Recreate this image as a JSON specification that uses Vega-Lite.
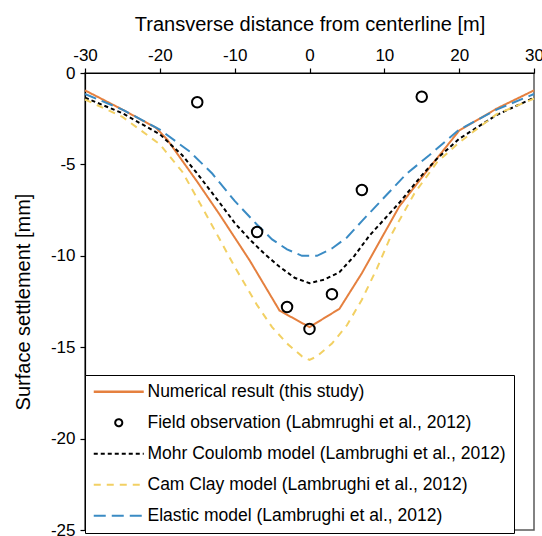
{
  "$schema": "https://vega.github.io/schema/vega-lite/v6.json",
  "width": 449,
  "height": 457,
  "autosize": "none",
  "padding": {"left": 85, "top": 73, "right": 8, "bottom": 6},
  "background": "white",
  "config": {
    "font": "Liberation Sans",
    "view": {"stroke": "#595959", "strokeWidth": 1.5},
    "axis": {"grid": false, "domainColor": "black", "tickColor": "black", "labelColor": "black", "titleColor": "black", "labelFont": "Liberation Sans", "titleFont": "Liberation Sans", "titleFontWeight": "normal", "domainWidth": 1.2, "tickWidth": 1.2}
  },
  "datasets": {
    "curves": [
      {"series": "Numerical result (this study)", "x": -30, "y": -0.95},
      {"series": "Numerical result (this study)", "x": -25, "y": -2.0},
      {"series": "Numerical result (this study)", "x": -20.5, "y": -3.0},
      {"series": "Numerical result (this study)", "x": -19, "y": -3.65},
      {"series": "Numerical result (this study)", "x": -15, "y": -5.95},
      {"series": "Numerical result (this study)", "x": -12, "y": -7.75},
      {"series": "Numerical result (this study)", "x": -8, "y": -10.25},
      {"series": "Numerical result (this study)", "x": -4, "y": -13.0},
      {"series": "Numerical result (this study)", "x": 0, "y": -13.9},
      {"series": "Numerical result (this study)", "x": 4, "y": -12.9},
      {"series": "Numerical result (this study)", "x": 7, "y": -10.95},
      {"series": "Numerical result (this study)", "x": 12, "y": -7.3},
      {"series": "Numerical result (this study)", "x": 16, "y": -5.2},
      {"series": "Numerical result (this study)", "x": 20, "y": -3.15},
      {"series": "Numerical result (this study)", "x": 25, "y": -1.95},
      {"series": "Numerical result (this study)", "x": 30, "y": -0.95},
      {"series": "Mohr Coulomb model (Lambrughi et al., 2012)", "x": -30, "y": -1.35},
      {"series": "Mohr Coulomb model (Lambrughi et al., 2012)", "x": -25, "y": -2.2},
      {"series": "Mohr Coulomb model (Lambrughi et al., 2012)", "x": -20, "y": -3.35},
      {"series": "Mohr Coulomb model (Lambrughi et al., 2012)", "x": -17, "y": -4.5},
      {"series": "Mohr Coulomb model (Lambrughi et al., 2012)", "x": -15, "y": -5.5},
      {"series": "Mohr Coulomb model (Lambrughi et al., 2012)", "x": -12, "y": -7.1},
      {"series": "Mohr Coulomb model (Lambrughi et al., 2012)", "x": -10, "y": -8.2},
      {"series": "Mohr Coulomb model (Lambrughi et al., 2012)", "x": -8, "y": -9.1},
      {"series": "Mohr Coulomb model (Lambrughi et al., 2012)", "x": -6, "y": -9.9},
      {"series": "Mohr Coulomb model (Lambrughi et al., 2012)", "x": -4, "y": -10.6},
      {"series": "Mohr Coulomb model (Lambrughi et al., 2012)", "x": -2, "y": -11.2},
      {"series": "Mohr Coulomb model (Lambrughi et al., 2012)", "x": 0, "y": -11.5},
      {"series": "Mohr Coulomb model (Lambrughi et al., 2012)", "x": 2, "y": -11.3},
      {"series": "Mohr Coulomb model (Lambrughi et al., 2012)", "x": 4, "y": -10.9},
      {"series": "Mohr Coulomb model (Lambrughi et al., 2012)", "x": 6, "y": -10.0},
      {"series": "Mohr Coulomb model (Lambrughi et al., 2012)", "x": 8, "y": -8.9},
      {"series": "Mohr Coulomb model (Lambrughi et al., 2012)", "x": 10, "y": -8.0},
      {"series": "Mohr Coulomb model (Lambrughi et al., 2012)", "x": 12, "y": -7.1},
      {"series": "Mohr Coulomb model (Lambrughi et al., 2012)", "x": 15, "y": -5.6},
      {"series": "Mohr Coulomb model (Lambrughi et al., 2012)", "x": 17, "y": -4.7},
      {"series": "Mohr Coulomb model (Lambrughi et al., 2012)", "x": 20, "y": -3.6},
      {"series": "Mohr Coulomb model (Lambrughi et al., 2012)", "x": 25, "y": -2.3},
      {"series": "Mohr Coulomb model (Lambrughi et al., 2012)", "x": 30, "y": -1.35},
      {"series": "Cam Clay model (Lambrughi et al., 2012)", "x": -30, "y": -1.45},
      {"series": "Cam Clay model (Lambrughi et al., 2012)", "x": -25, "y": -2.4},
      {"series": "Cam Clay model (Lambrughi et al., 2012)", "x": -20, "y": -3.9},
      {"series": "Cam Clay model (Lambrughi et al., 2012)", "x": -17, "y": -5.4},
      {"series": "Cam Clay model (Lambrughi et al., 2012)", "x": -14, "y": -7.6},
      {"series": "Cam Clay model (Lambrughi et al., 2012)", "x": -12, "y": -9.1},
      {"series": "Cam Clay model (Lambrughi et al., 2012)", "x": -10, "y": -10.6},
      {"series": "Cam Clay model (Lambrughi et al., 2012)", "x": -7, "y": -12.7},
      {"series": "Cam Clay model (Lambrughi et al., 2012)", "x": -5, "y": -13.9},
      {"series": "Cam Clay model (Lambrughi et al., 2012)", "x": -3, "y": -14.8},
      {"series": "Cam Clay model (Lambrughi et al., 2012)", "x": -1, "y": -15.5},
      {"series": "Cam Clay model (Lambrughi et al., 2012)", "x": 0, "y": -15.7},
      {"series": "Cam Clay model (Lambrughi et al., 2012)", "x": 1, "y": -15.5},
      {"series": "Cam Clay model (Lambrughi et al., 2012)", "x": 3, "y": -14.8},
      {"series": "Cam Clay model (Lambrughi et al., 2012)", "x": 5, "y": -13.8},
      {"series": "Cam Clay model (Lambrughi et al., 2012)", "x": 7, "y": -12.4},
      {"series": "Cam Clay model (Lambrughi et al., 2012)", "x": 9, "y": -10.7},
      {"series": "Cam Clay model (Lambrughi et al., 2012)", "x": 11, "y": -8.8},
      {"series": "Cam Clay model (Lambrughi et al., 2012)", "x": 14, "y": -6.6},
      {"series": "Cam Clay model (Lambrughi et al., 2012)", "x": 17, "y": -4.9},
      {"series": "Cam Clay model (Lambrughi et al., 2012)", "x": 20, "y": -3.8},
      {"series": "Cam Clay model (Lambrughi et al., 2012)", "x": 25, "y": -2.25},
      {"series": "Cam Clay model (Lambrughi et al., 2012)", "x": 30, "y": -1.4},
      {"series": "Elastic model (Lambrughi et al., 2012)", "x": -30, "y": -1.15},
      {"series": "Elastic model (Lambrughi et al., 2012)", "x": -25, "y": -2.0},
      {"series": "Elastic model (Lambrughi et al., 2012)", "x": -20, "y": -3.1},
      {"series": "Elastic model (Lambrughi et al., 2012)", "x": -16, "y": -4.3},
      {"series": "Elastic model (Lambrughi et al., 2012)", "x": -13, "y": -5.5},
      {"series": "Elastic model (Lambrughi et al., 2012)", "x": -10, "y": -7.0},
      {"series": "Elastic model (Lambrughi et al., 2012)", "x": -7, "y": -8.3},
      {"series": "Elastic model (Lambrughi et al., 2012)", "x": -5, "y": -9.1},
      {"series": "Elastic model (Lambrughi et al., 2012)", "x": -3, "y": -9.65},
      {"series": "Elastic model (Lambrughi et al., 2012)", "x": -1, "y": -10.0},
      {"series": "Elastic model (Lambrughi et al., 2012)", "x": 0, "y": -10.0},
      {"series": "Elastic model (Lambrughi et al., 2012)", "x": 1, "y": -10.0},
      {"series": "Elastic model (Lambrughi et al., 2012)", "x": 3, "y": -9.6},
      {"series": "Elastic model (Lambrughi et al., 2012)", "x": 5, "y": -9.0},
      {"series": "Elastic model (Lambrughi et al., 2012)", "x": 7, "y": -8.1},
      {"series": "Elastic model (Lambrughi et al., 2012)", "x": 10, "y": -6.8},
      {"series": "Elastic model (Lambrughi et al., 2012)", "x": 13, "y": -5.5},
      {"series": "Elastic model (Lambrughi et al., 2012)", "x": 16, "y": -4.5},
      {"series": "Elastic model (Lambrughi et al., 2012)", "x": 20, "y": -3.1},
      {"series": "Elastic model (Lambrughi et al., 2012)", "x": 25, "y": -2.0},
      {"series": "Elastic model (Lambrughi et al., 2012)", "x": 30, "y": -1.15}
    ],
    "obs": [
      {"series": "Field observation (Labmrughi et al., 2012)", "x": -15, "y": -1.6},
      {"series": "Field observation (Labmrughi et al., 2012)", "x": 15, "y": -1.3},
      {"series": "Field observation (Labmrughi et al., 2012)", "x": -7, "y": -8.7},
      {"series": "Field observation (Labmrughi et al., 2012)", "x": 7, "y": -6.4},
      {"series": "Field observation (Labmrughi et al., 2012)", "x": -3, "y": -12.8},
      {"series": "Field observation (Labmrughi et al., 2012)", "x": 3, "y": -12.1},
      {"series": "Field observation (Labmrughi et al., 2012)", "x": 0, "y": -14.0}
    ]
  },
  "encoding": {
    "x": {"field": "x", "type": "quantitative", "scale": {"domain": [-30, 30], "nice": false, "zero": false},
      "axis": {"orient": "top", "values": [-30, -20, -10, 0, 10, 20, 30], "labelExpr": "toString(datum.value)", "title": "Transverse distance from centerline [m]", "titleFontSize": 20, "labelFontSize": 17, "tickSize": 5, "labelPadding": 4, "titlePadding": 12, "labelFlush": false}},
    "y": {"field": "y", "type": "quantitative", "scale": {"domain": [-25, 0], "nice": false, "zero": false},
      "axis": {"values": [0, -5, -10, -15, -20, -25], "labelExpr": "toString(datum.value)", "title": "Surface settlement [mm]", "titleFontSize": 20, "labelFontSize": 17, "tickSize": 5, "labelPadding": 5, "titlePadding": 17}}
  },
  "layer": [
    {
      "data": {"name": "curves"},
      "mark": {"type": "line", "strokeWidth": 2},
      "encoding": {
        "color": {"field": "series", "type": "nominal",
          "scale": {"domain": ["Numerical result (this study)", "Field observation (Labmrughi et al., 2012)", "Mohr Coulomb model (Lambrughi et al., 2012)", "Cam Clay model (Lambrughi et al., 2012)", "Elastic model (Lambrughi et al., 2012)"],
                    "range": ["#E5803F", "#000000", "#000000", "#F2D063", "#3A8BC4"]},
          "legend": {
            "title": null, "orient": "none", "legendX": 0, "legendY": 302,
            "strokeColor": "black", "fillColor": "white", "padding": 8,
            "labelFontSize": 17.5, "labelLimit": 500, "labelColor": "black",
            "symbolSize": 100, "symbolType": "M-5,0H5", "symbolStrokeWidth": 2,
            "symbolOffset": 17, "labelOffset": 20, "rowPadding": 12,
            "encode": {"symbols": {"update": {
              "shape": {"signal": "datum.value === 'Field observation (Labmrughi et al., 2012)' ? 'circle' : 'M-5,0H5'"},
              "size": {"signal": "datum.value === 'Field observation (Labmrughi et al., 2012)' ? 50 : 100"},
              "strokeWidth": {"signal": "datum.value === 'Numerical result (this study)' ? 2.5 : 2"}
            }}}
          }},
        "strokeDash": {"field": "series", "type": "nominal",
          "scale": {"domain": ["Numerical result (this study)", "Field observation (Labmrughi et al., 2012)", "Mohr Coulomb model (Lambrughi et al., 2012)", "Cam Clay model (Lambrughi et al., 2012)", "Elastic model (Lambrughi et al., 2012)"],
                    "range": [[1, 0], [1, 0], [4, 3], [7, 6], [12, 6]]}},
        "strokeWidth": {"condition": {"test": "datum.series === 'Numerical result (this study)'", "value": 2.5}, "value": 2}
      }
    },
    {
      "data": {"name": "obs"},
      "mark": {"type": "point", "shape": "circle", "filled": false, "stroke": "black", "strokeWidth": 2, "size": 110, "opacity": 1}
    }
  ]
}
